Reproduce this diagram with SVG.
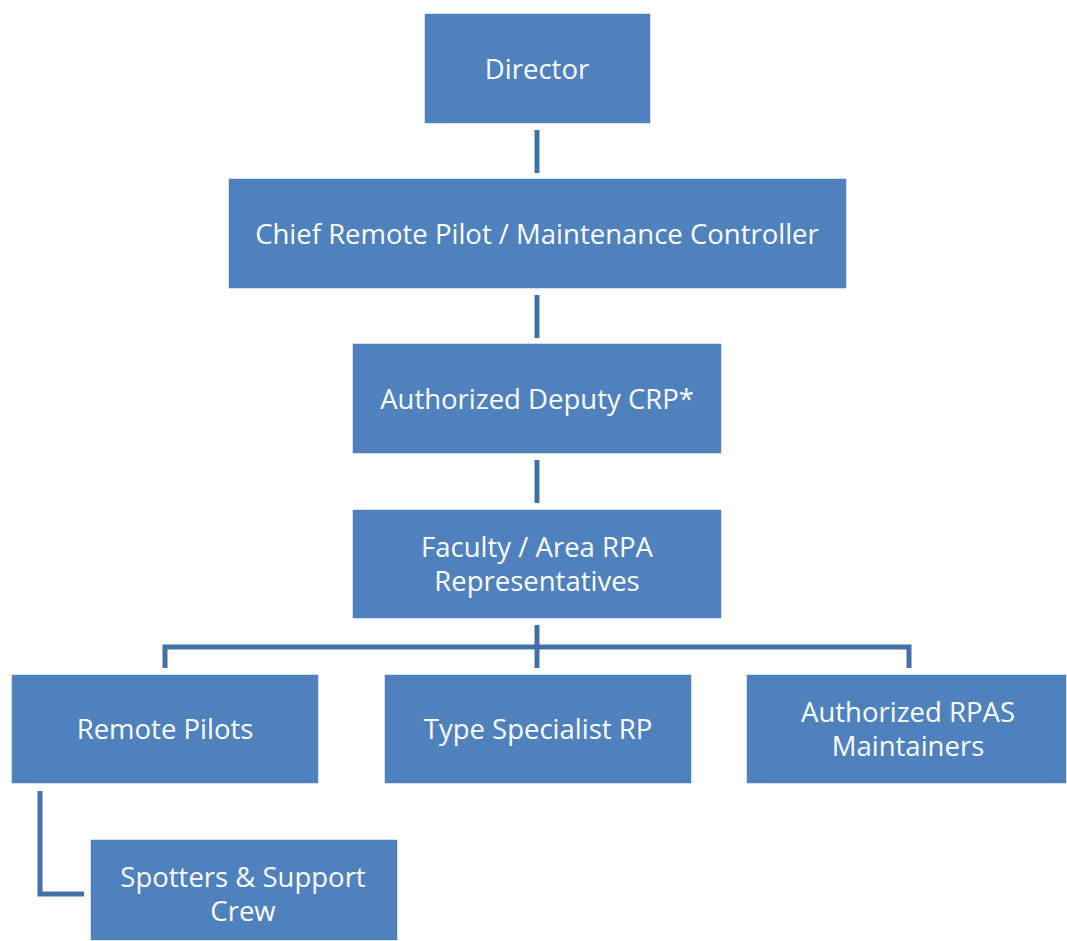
<svg xmlns="http://www.w3.org/2000/svg" width="1067" height="941" viewBox="0 0 1067 941">
<style>
.box{fill:#4F81BD;stroke:#FFFFFF;stroke-width:1.5}
.t{fill:#FFFFFF;font-family:"Open Sans","Liberation Sans",sans-serif;font-size:27.5px;text-anchor:middle}
.c{fill:none;stroke:#4470A8;stroke-width:5}
</style>
<rect width="1067" height="941" fill="#FFFFFF"/>
<g id="connectors">
<line class="c" x1="537" y1="130" x2="537" y2="173"/>
<line class="c" x1="537" y1="295" x2="537" y2="338"/>
<line class="c" x1="537" y1="460" x2="537" y2="503"/>
<line class="c" x1="537" y1="625" x2="537" y2="668"/>
<path class="c" d="M165 668 V647 H909 V668"/>
<path class="c" d="M40 791 V894 H84"/>
</g>
<g id="director"><rect class="box" x="424" y="13" width="227" height="111"/><text class="t" x="537" y="79">Director</text></g>
<g id="chief"><rect class="box" x="228" y="178" width="619" height="111"/><text class="t" x="537" y="244">Chief Remote Pilot / Maintenance Controller</text></g>
<g id="deputy"><rect class="box" x="352" y="343" width="370" height="111"/><text class="t" x="537" y="409">Authorized Deputy CRP*</text></g>
<g id="faculty"><rect class="box" x="352" y="509" width="370" height="110"/><text class="t" x="537" y="557">Faculty / Area RPA</text><text class="t" x="537" y="591">Representatives</text></g>
<g id="remote-pilots"><rect class="box" x="11" y="674" width="308" height="110"/><text class="t" x="165" y="739">Remote Pilots</text></g>
<g id="type-specialist"><rect class="box" x="384" y="674" width="308" height="110"/><text class="t" x="538" y="739">Type Specialist RP</text></g>
<g id="maintainers"><rect class="box" x="746" y="674" width="321" height="110"/><text class="t" x="908" y="722">Authorized RPAS</text><text class="t" x="908" y="756">Maintainers</text></g>
<g id="spotters"><rect class="box" x="90" y="839" width="308" height="102"/><text class="t" x="243" y="887">Spotters &amp; Support</text><text class="t" x="243" y="921">Crew</text></g>
</svg>
